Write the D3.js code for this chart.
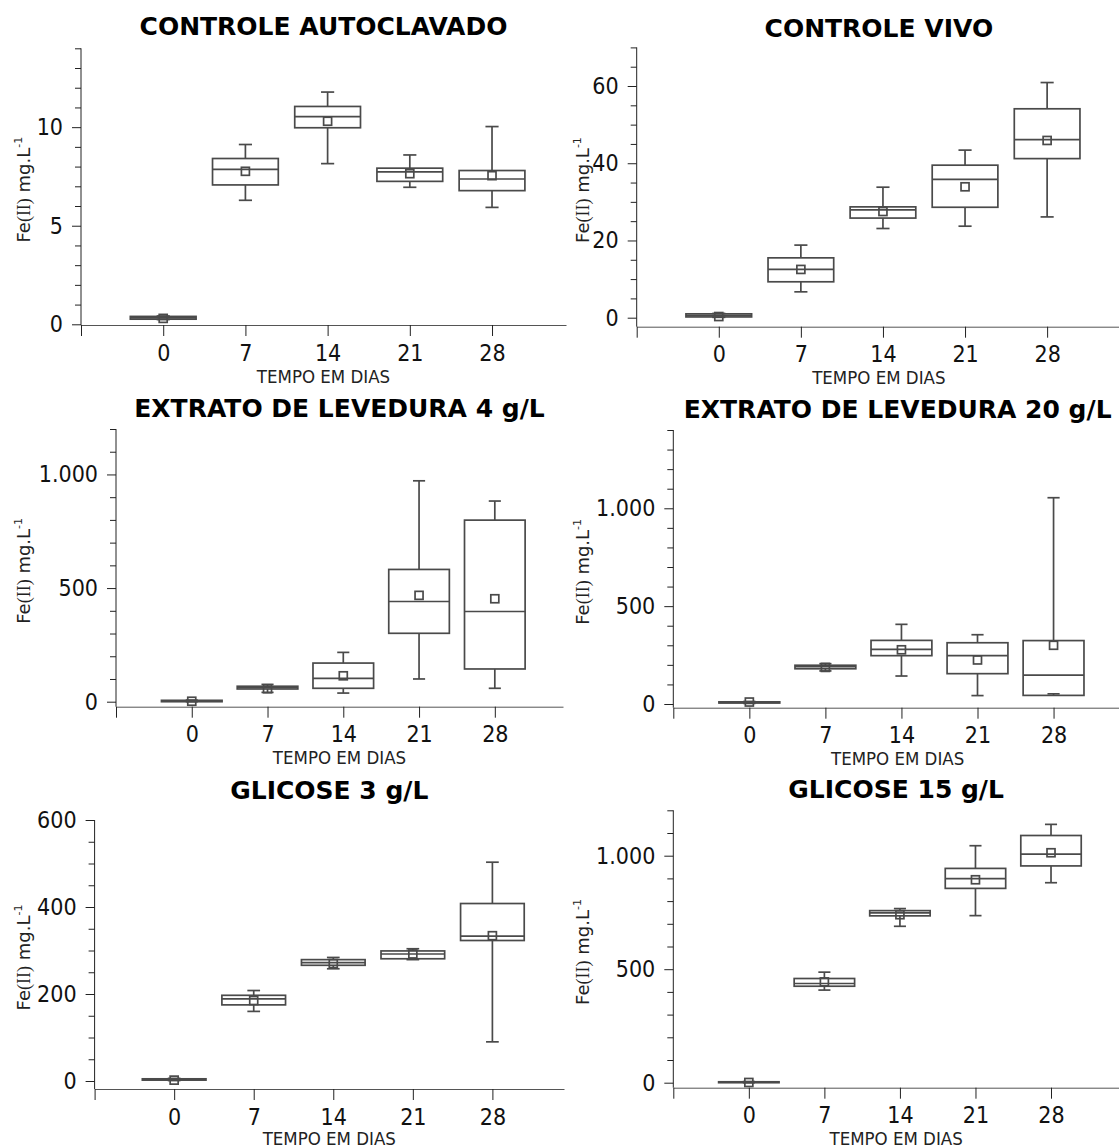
<!DOCTYPE html>
<html lang='pt'>
<head>
<meta charset=utf-8>
<title>Fe(II) ao longo do tempo</title>
<script src="https://cdn.jsdelivr.net/npm/d3@7"></script>
<style>
	body { margin: 0; background: white; }
	.title { font-family: "DejaVu Sans", Verdana, sans-serif; font-weight: bold; font-size: 25px; fill: #000; }
	.ax text { font-family: "DejaVu Sans Condensed", "DejaVu Sans", sans-serif; font-stretch: condensed; font-size: 23px; fill: #111; }
	.ax line { stroke: #222; }
	.xax path { stroke: #555; }
	.xlab { font-family: "DejaVu Sans Condensed", "DejaVu Sans", sans-serif; font-stretch: condensed; font-size: 18.5px; fill: #222; }
	.ylab { font-family: "DejaVu Sans", sans-serif; font-size: 18px; fill: #222; }
	.box line, .box rect { stroke: #4a4a4a; stroke-width: 1.7; fill: none; }
</style>
</head>
<body>
<svg id='chart' width='1119' height='1148'></svg>
<script>
// dias de coleta
var days = [0, 7, 14, 21, 28];

var titles = ['CONTROLE AUTOCLAVADO', 'CONTROLE VIVO', 'EXTRATO DE LEVEDURA 4 g/L',
	'EXTRATO DE LEVEDURA 20 g/L', 'GLICOSE 3 g/L', 'GLICOSE 15 g/L'];

// cada dia: [min, q1, mediana, q3, max, media]
var autoclavado = [[0.24, 0.26, 0.33, 0.40, 0.42, 0.30], [6.29, 7.07, 7.86, 8.41, 9.12, 7.76],
	[8.15, 9.97, 10.53, 11.05, 11.78, 10.30], [6.95, 7.25, 7.73, 7.92, 8.59, 7.64],
	[5.93, 6.78, 7.37, 7.80, 10.03, 7.54]];
var vivo = [[0.1, 0.2, 0.6, 1.0, 1.1, 0.3], [6.7, 9.3, 12.5, 15.5, 18.8, 12.5],
	[23.1, 25.8, 27.9, 28.7, 33.8, 27.5], [23.7, 28.6, 35.8, 39.5, 43.4, 33.9],
	[26.1, 41.2, 46.1, 54.1, 60.9, 45.9]];
var levedura4 = [[0, 0, 2, 6, 7, 2], [41, 56, 63, 68, 76, 57], [38, 59, 103, 170, 217, 114],
	[100, 301, 441, 582, 972, 468], [59, 144, 397, 799, 883, 453]];
var levedura20 = [[3, 5, 8, 11, 13, 10], [169, 180, 191, 198, 206, 187], [143, 247, 279, 325, 407, 277],
	[43, 155, 247, 313, 354, 225], [52, 44, 148, 324, 1054, 300]];
var glicose3 = [[1, 2, 4, 5, 6, 2], [160, 175, 189, 197, 208, 185], [258, 266, 272, 279, 284, 270],
	[279, 281, 292, 299, 304, 292], [90, 323, 333, 408, 503, 334]];
var glicose15 = [[0, 0, 2, 4, 5, 1], [408, 425, 437, 459, 487, 444], [689, 735, 748, 758, 767, 740],
	[736, 856, 899, 944, 1044, 894], [881, 955, 1007, 1089, 1138, 1013]];

var series = [autoclavado, vivo, levedura4, levedura20, glicose3, glicose15];

// eixo y de cada painel
var yMax = [14, 70, 1200, 1400, 600, 1200];
var yMajor = [5, 20, 500, 500, 200, 500];
var yMinor = [1, 5, 100, 100, 50, 100];

// posicao dos paineis (px)
var panelX = [0, 559, 0, 559, 0, 559];
var axLeft = [81, 636.7, 116, 673.3, 94.6, 673.3];
var axRight = [566, 1121, 563, 1122, 564, 1119];
var axTop = [48.3, 47.4, 429, 430, 820, 810.3];
var axZero = [324.3, 317.7, 701.7, 704, 1081, 1082.7];
var axBase = [325, 326.7, 706.7, 707.7, 1089, 1087.7];

// separador de milhar com ponto
var fmt = d3.formatLocale({decimal: ',', thousands: '.', grouping: [3], currency: ['R$', '']}).format(',d');

var svg = d3.select('#chart');

for (var p = 0; p < 6; p = p + 1) {
	var g = svg.append('g');
	var x = d3.scaleLinear().domain([-1, 4.9]).range([axLeft[p], axRight[p]]);
	var y = d3.scaleLinear().domain([0, yMax[p]]).range([axZero[p], axTop[p]]);
	var step = x(1) - x(0);

	// ticks menores e maiores do eixo y
	var majors = d3.range(0, yMax[p] + 1e-9, yMajor[p]);
	var minors = d3.range(0, yMax[p] + 1e-9, yMinor[p]).filter(function(v) {
		return Math.abs(v / yMajor[p] - Math.round(v / yMajor[p])) > 1e-6;
	});
	g.append('g').attr('class', 'ax').attr('transform', 'translate(' + axLeft[p] + ',0)')
		.call(d3.axisLeft(y).tickValues(minors).tickSize(6).tickFormat(''))
		.select('.domain').remove();
	g.append('g').attr('class', 'ax').attr('transform', 'translate(' + axLeft[p] + ',0)')
		.call(d3.axisLeft(y).tickValues(majors).tickSize(9).tickPadding(9).tickFormat(fmt))
		.select('.domain').remove();
	g.append('line').attr('x1', axLeft[p]).attr('x2', axLeft[p])
		.attr('y1', axTop[p]).attr('y2', axBase[p]).attr('stroke', '#222');

	// eixo x
	var xa = g.append('g').attr('class', 'ax xax').attr('transform', 'translate(0,' + axBase[p] + ')')
		.call(d3.axisBottom(x).tickValues([-1, 0, 1, 2, 3, 4]).tickSize(11).tickSizeOuter(0)
			.tickFormat(function(i) { return i < 0 ? '' : days[i]; }));
	xa.selectAll('text').attr('y', 35.5).attr('dy', null);

	// titulos
	g.append('text').attr('class', 'title').attr('text-anchor', 'middle')
		.attr('x', (axLeft[p] + axRight[p]) / 2).attr('y', axBase[p] - 290).text(titles[p]);
	g.append('text').attr('class', 'xlab').attr('text-anchor', 'middle')
		.attr('x', (axLeft[p] + axRight[p]) / 2).attr('y', Math.min(axBase[p] + 57.5, 1144.5)).text('TEMPO EM DIAS');
	var yl = g.append('text').attr('class', 'ylab').attr('text-anchor', 'middle')
		.attr('transform', 'translate(' + (panelX[p] + 29.5) + ',' + ((axTop[p] + axBase[p]) / 2 + 3) + ') rotate(-90)');
	yl.append('tspan').text('Fe');
	yl.append('tspan').attr('font-family', 'Liberation Serif, serif').text('(II)');
	yl.append('tspan').text(' mg.L');
	yl.append('tspan').attr('font-size', 11).attr('dy', -8).text('-1');

	// caixas
	var bw = 0.8 * step;
	var cw = 0.16 * step;
	var box = g.selectAll('.box').data(series[p]).join('g').attr('class', 'box')
		.attr('transform', function(d, i) { return 'translate(' + x(i) + ',0)'; });
	box.append('line').attr('x1', 0).attr('x2', 0)
		.attr('y1', function(d) { return y(d[3]); }).attr('y2', function(d) { return y(d[4]); });
	box.append('line').attr('x1', 0).attr('x2', 0)
		.attr('y1', function(d) { return y(d[1]); }).attr('y2', function(d) { return y(d[0]); });
	box.append('line').attr('x1', -cw / 2).attr('x2', cw / 2)
		.attr('y1', function(d) { return y(d[4]); }).attr('y2', function(d) { return y(d[4]); });
	box.append('line').attr('x1', -cw / 2).attr('x2', cw / 2)
		.attr('y1', function(d) { return y(d[0]); }).attr('y2', function(d) { return y(d[0]); });
	box.append('rect').attr('x', -bw / 2).attr('width', bw)
		.attr('y', function(d) { return y(d[3]); })
		.attr('height', function(d) { return Math.max(0.5, y(d[1]) - y(d[3])); });
	box.append('line').attr('x1', -bw / 2).attr('x2', bw / 2)
		.attr('y1', function(d) { return y(d[2]); }).attr('y2', function(d) { return y(d[2]); });
	box.append('rect').attr('x', -4).attr('width', 8).attr('height', 8)
		.attr('y', function(d) { return y(d[5]) - 4; });
}
</script>
</body>
</html>
